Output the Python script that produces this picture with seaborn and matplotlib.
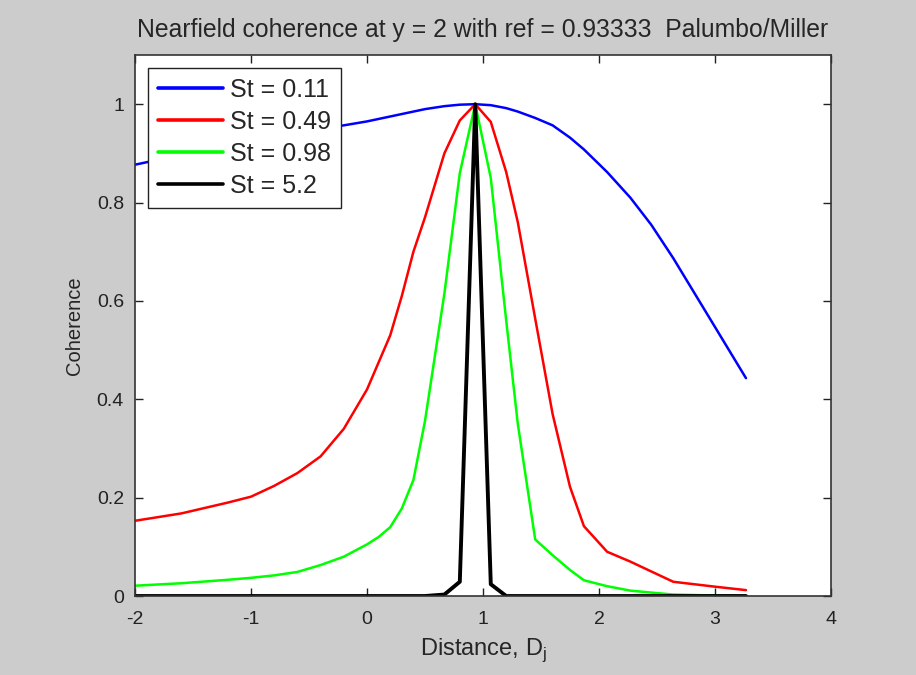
import matplotlib
matplotlib.use("Agg")
import matplotlib.pyplot as plt
import seaborn as sns
import pandas as pd

# ---- data ----
x_vals = [-2.0, -1.6, -1.2, -1.0, -0.8, -0.6, -0.4, -0.2, 0.0, 0.1, 0.2, 0.3,
          0.4, 0.5, 0.667, 0.8, 0.933, 1.067, 1.2, 1.3, 1.45, 1.6, 1.75, 1.87,
          2.07, 2.27, 2.45, 2.64, 3.0, 3.267]
st011 = [0.877, 0.897, 0.915, 0.925, 0.933, 0.942, 0.950, 0.957, 0.965, 0.970,
         0.975, 0.980, 0.985, 0.990, 0.996, 0.999, 1.000, 0.998, 0.992, 0.985,
         0.972, 0.957, 0.932, 0.908, 0.862, 0.810, 0.755, 0.687, 0.547, 0.443]
st049 = [0.153, 0.168, 0.190, 0.202, 0.224, 0.250, 0.284, 0.340, 0.420, 0.475,
         0.530, 0.610, 0.700, 0.770, 0.900, 0.967, 1.000, 0.964, 0.862, 0.760,
         0.564, 0.370, 0.222, 0.142, 0.090, 0.070, 0.050, 0.029, 0.019, 0.012]
st098 = [0.021, 0.026, 0.033, 0.037, 0.042, 0.049, 0.063, 0.080, 0.105, 0.120,
         0.140, 0.178, 0.236, 0.356, 0.615, 0.860, 1.000, 0.850, 0.560, 0.350,
         0.115, 0.083, 0.053, 0.032, 0.020, 0.011, 0.007, 0.003, 0.001, 0.000]
st52 = [0.0, 0.0, 0.0, 0.0, 0.0, 0.0, 0.0, 0.0, 0.0, 0.0,
        0.0, 0.0, 0.0, 0.0, 0.003, 0.029, 1.000, 0.024, 0.0, 0.0,
        0.0, 0.0, 0.0, 0.0, 0.0, 0.0, 0.0, 0.0, 0.0, 0.0]
labels = ["St = 0.11", "St = 0.49", "St = 0.98", "St = 5.2"]
colors = ["#0000ff", "#ff0000", "#00ff00", "#000000"]
widths = [1.8, 1.8, 1.8, 2.8]
x_ticks = [-2, -1, 0, 1, 2, 3, 4]
y_ticks = [0, 0.2, 0.4, 0.6, 0.8, 1.0]
y_ticklabels = ["0", "0.2", "0.4", "0.6", "0.8", "1"]

sns.set_style("ticks")
plt.rcParams["font.family"] = ["Liberation Sans", "DejaVu Sans"]
plt.rcParams["axes.unicode_minus"] = False

fig = plt.figure(figsize=(9.16, 6.75), dpi=100, facecolor="#cccccc")
ax = fig.add_axes([0.1474, 0.117, 0.7598, 0.8015])
ax.set_facecolor("white")

series = [st011, st049, st098, st52]
for ys, lab, c, lw in zip(series, labels, colors, widths):
    df = pd.DataFrame({"x": x_vals, "y": ys})
    sns.lineplot(data=df, x="x", y="y", ax=ax, color=c, linewidth=lw,
                 label=lab, sort=False, estimator=None)

ax.set_xlim(-2, 4)
ax.set_ylim(0, 1.1)
ax.set_xticks(x_ticks)
ax.set_yticks(y_ticks)
ax.set_yticklabels(y_ticklabels)
ax.tick_params(direction="in", top=True, right=True, length=6, width=1,
               labelsize=14, colors="#222222", pad=8)
ax.tick_params(axis="x", pad=11)
for s in ax.spines.values():
    s.set_color("#333333")
    s.set_linewidth(1.2)

ax.set_xlabel("Distance, D$_{\\mathregular{j}}$", fontsize=17, labelpad=6)
ax.set_ylabel("Coherence", fontsize=14.5, labelpad=9)
ax.set_title("Nearfield coherence at y = 2 with ref = 0.93333  Palumbo/Miller",
             fontsize=17.8, pad=13)

leg = ax.legend(loc="upper left", bbox_to_anchor=(0.018, 0.976), fontsize=18,
                frameon=True, fancybox=False, framealpha=1, edgecolor="#222222",
                handlelength=2.6, handletextpad=0.28, borderpad=0.4,
                labelspacing=0.32, borderaxespad=0)
leg.get_frame().set_linewidth(1.0)
for line in leg.get_lines():
    line.set_linewidth(2.6)

fig.savefig("out.png", dpi=100, facecolor=fig.get_facecolor())
